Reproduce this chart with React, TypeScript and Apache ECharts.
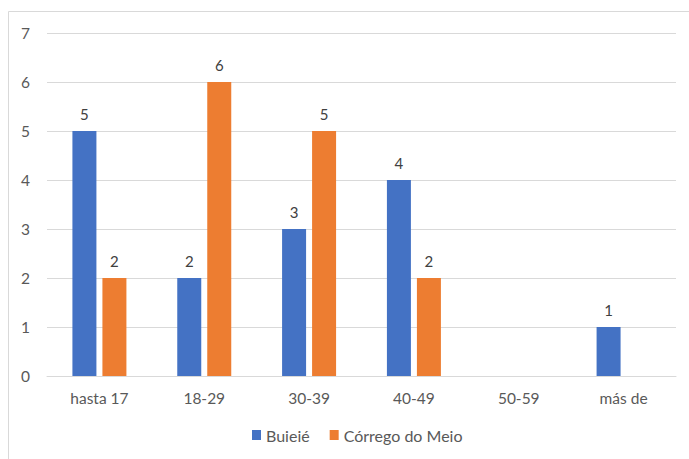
import React, { useEffect, useRef } from "react";
import * as echarts from "echarts";

const categories = ["hasta 17", "18-29", "30-39", "40-49", "50-59", "más de"];
const buieie = [5, 2, 3, 4, null, 1];
const corrego = [2, 6, 5, 2, null, null];
const seriesNames = ["Buieié", "Córrego do Meio"];
const yTicks = { min: 0, max: 7, interval: 1 };

const FONT = "Lato, 'Open Sans', sans-serif";

export default function App() {
  const ref = useRef<HTMLDivElement>(null);
  useEffect(() => {
    const chart = echarts.init(ref.current!, null, { renderer: "svg" });
    const labelCfg = {
      show: true,
      position: "top" as const,
      distance: 10,
      color: "#404040",
      fontSize: 15,
      fontFamily: FONT,
    };
    chart.setOption({
      animation: false,
      backgroundColor: "#ffffff",
      textStyle: { fontFamily: FONT },
      graphic: [
        { type: "line", shape: { x1: 8.5, y1: 11.5, x2: 689, y2: 11.5 }, style: { stroke: "#d9d9d9", lineWidth: 1 } },
        { type: "line", shape: { x1: 8.5, y1: 11.5, x2: 8.5, y2: 459 }, style: { stroke: "#d9d9d9", lineWidth: 1 } },
      ],
      grid: { left: 47, right: 13, top: 33, bottom: 83, containLabel: false },
      legend: {
        data: seriesNames,
        bottom: 11,
        left: 247,
        icon: "rect",
        itemWidth: 9,
        itemHeight: 10,
        itemGap: 20,
        textStyle: { color: "#595959", fontSize: 16, fontFamily: FONT },
      },
      xAxis: {
        type: "category",
        data: categories,
        axisLine: { show: true, lineStyle: { color: "#d9d9d9", width: 1 } },
        axisTick: { show: false },
        axisLabel: { color: "#595959", fontSize: 15.5, fontFamily: FONT, margin: 14 },
      },
      yAxis: {
        type: "value",
        min: yTicks.min,
        max: yTicks.max,
        interval: yTicks.interval,
        axisLine: { show: false },
        axisTick: { show: false },
        splitLine: { lineStyle: { color: "#d9d9d9", width: 1 } },
        axisLabel: { color: "#595959", fontSize: 15.5, fontFamily: FONT, margin: 17 },
      },
      series: [
        {
          name: seriesNames[0],
          type: "bar",
          data: buieie,
          itemStyle: { color: "#4472c4" },
          barWidth: 24,
          barGap: "25%",
          label: labelCfg,
        },
        {
          name: seriesNames[1],
          type: "bar",
          data: corrego,
          itemStyle: { color: "#ed7d31" },
          barWidth: 24,
          barGap: "25%",
          label: labelCfg,
        },
      ],
    });
    return () => chart.dispose();
  }, []);
  return (
    <div
      ref={ref}
      style={{ position: "absolute", left: 0, top: 0, width: 689, height: 459 }}
    />
  );
}
